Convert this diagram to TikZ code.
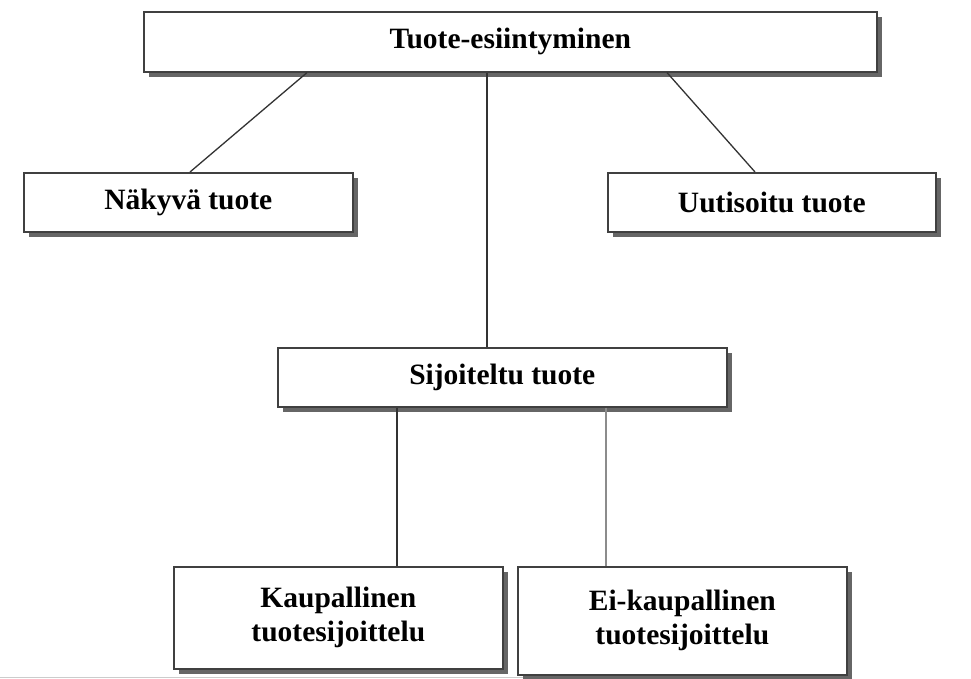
\documentclass[tikz,border=0pt]{standalone}
\usepackage{fontspec}
\setmainfont{Liberation Serif}
\usetikzlibrary{shadows}
\begin{document}
\begin{tikzpicture}[x=1pt,y=-1pt,
  box/.style={draw=black!75, line width=1.6pt, fill=white, anchor=north west,
    inner sep=0pt, align=center,
    font=\fontsize{29.5}{34}\selectfont\bfseries,
    drop shadow={shadow xshift=5pt, shadow yshift=-5pt, fill=black!60, opacity=1}},
  conn/.style={line width=1.3pt, draw=black!80},
  lightconn/.style={line width=1.3pt, draw=black!45}]
\useasboundingbox (0,0) rectangle (971,679);
\fill[white] (0,0) rectangle (971,679);
\draw[black!20, line width=1pt] (0,677) -- (760,677);

\node[box, minimum width=733pt, minimum height=60pt] (top) at (143,11) {Tuote-esiintyminen};
\node[box, minimum width=329pt, minimum height=59pt] (nak) at (23,172) {Näkyvä tuote};
\node[box, minimum width=328pt, minimum height=59pt] (uut) at (607,172) {Uutisoitu tuote};
\node[box, minimum width=449pt, minimum height=59pt] (sij) at (277,347) {Sijoiteltu tuote};
\node[box, minimum width=329pt, minimum height=102pt] (kau) at (173,566) {Kaupallinen\\tuotesijoittelu};
\node[box, minimum width=329pt, minimum height=108pt] (eik) at (517,566) {Ei-kaupallinen\\tuotesijoittelu};

\draw[conn] (307,0 |- top.south) -- (190,0 |- nak.north);
\draw[conn] (487,0 |- top.south) -- (487,0 |- sij.north);
\draw[conn] (667,0 |- top.south) -- (755,0 |- uut.north);
\draw[conn] (397,0 |- sij.south) -- (397,0 |- kau.north);
\draw[lightconn] (606,0 |- sij.south) -- (606,0 |- eik.north);
\end{tikzpicture}
\end{document}
